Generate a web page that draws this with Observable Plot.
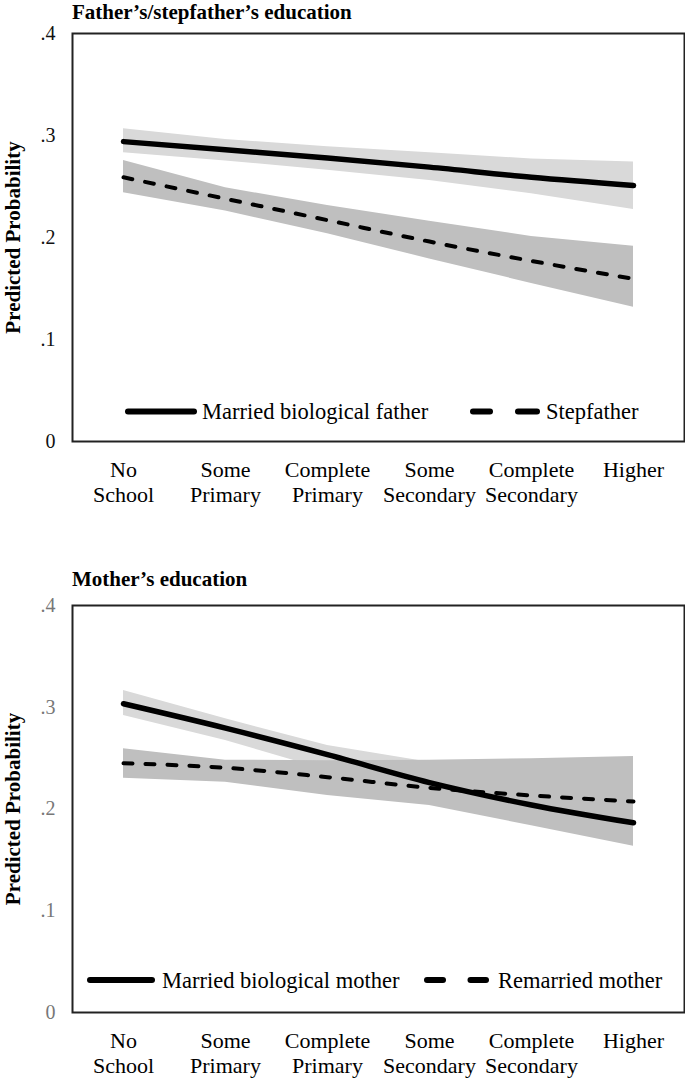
<!DOCTYPE html>
<html>
<head>
<meta charset="utf-8">
<script src="https://cdn.jsdelivr.net/npm/d3@7"></script>
<script src="https://cdn.jsdelivr.net/npm/@observablehq/plot@0.6"></script>
<style>
  body { margin: 0; background: #fff; }
  #wrap { position: relative; width: 685px; height: 1078px; overflow: hidden; font-family: "Liberation Serif", serif; }
  .title { position: absolute; left: 72px; font-weight: bold; font-size: 21px; line-height: 24px; white-space: nowrap; color: #000; }
  .panel { position: absolute; left: 0; }
  #legend { position: absolute; left: 0; top: 0; pointer-events: none; }
</style>
</head>
<body>
<div id="wrap">
  <div class="panel" id="p1" style="top:0px"></div>
  <div class="panel" id="p2" style="top:560px"></div>
  <svg id="legend" width="685" height="1078"></svg>
  <div class="title" id="t1" style="top:0px"></div>
  <div class="title" id="t2" style="top:567px"></div>
</div>
<script>
// ---- data ----
const titles = ["Father’s/stepfather’s education", "Mother’s education"];
const yLabel = "Predicted Probability";
const categories = ["No School", "Some Primary", "Complete Primary", "Some Secondary", "Complete Secondary", "Higher"];
const yTicks = [0, 0.1, 0.2, 0.3, 0.4];

const fatherSeries = ["Married biological father", "Stepfather"];
const fatherBio   = [0.294, 0.286, 0.278, 0.269, 0.259, 0.251];
const fatherBioLo = [0.283, 0.275, 0.266, 0.256, 0.243, 0.2275];
const fatherBioHi = [0.3066, 0.296, 0.289, 0.283, 0.277, 0.274];
const stepfather   = [0.259, 0.238, 0.217, 0.196, 0.177, 0.1595];
const stepfatherLo = [0.2438, 0.226, 0.2036, 0.179, 0.155, 0.1317];
const stepfatherHi = [0.2755, 0.2487, 0.2314, 0.216, 0.201, 0.1915];

const motherSeries = ["Married biological mother", "Remarried mother"];
const motherBio   = [0.3034, 0.2795, 0.2535, 0.226, 0.204, 0.1864];
const motherBioLo = [0.2919, 0.2673, 0.238, 0.212, 0.188, 0.168];
const motherBioHi = [0.3165, 0.2886, 0.2624, 0.246, 0.226, 0.21];
const remarried   = [0.245, 0.2405, 0.2313, 0.2208, 0.2133, 0.2074];
const remarriedLo = [0.2303, 0.2264, 0.2133, 0.2034, 0.1835, 0.1635];
const remarriedHi = [0.2591, 0.2480, 0.2475, 0.2480, 0.2495, 0.2516];

// ---- helpers ----
function table(est, lo, hi) {
  return categories.map((c, i) => ({cat: c, est: est[i], lo: lo[i], hi: hi[i]}));
}
const fmt = d => d === 0 ? "0" : d3.format(".1f")(d).replace(/^0/, "");

function panel({a, b, height, marginTop, marginBottom, tickColor}) {
  return Plot.plot({
    width: 685,
    height,
    marginTop,
    marginBottom,
    marginLeft: 72,
    marginRight: 1,
    style: {fontFamily: "'Liberation Serif', serif", background: "transparent", overflow: "visible", color: "#000"},
    x: {type: "point", domain: categories, padding: 0.5},
    y: {domain: [0, 0.4]},
    marks: [
      Plot.areaY(a, {x: "cat", y1: "lo", y2: "hi", fill: "#d9d9d9"}),
      Plot.areaY(b, {x: "cat", y1: "lo", y2: "hi", fill: "#bfbfbf"}),
      Plot.line(a, {x: "cat", y: "est", stroke: "#000", strokeWidth: 5.5, strokeLinecap: "round", curve: "monotone-x"}),
      Plot.line(b, {x: "cat", y: "est", stroke: "#000", strokeWidth: 4, strokeDasharray: "9,13", strokeLinecap: "round", curve: "monotone-x"}),
      Plot.frame({stroke: "#222", strokeWidth: 2}),
      Plot.axisX({tickSize: 0, tickPadding: 18, fontSize: 22, lineHeight: 1.14, label: null, color: "#000",
                  tickFormat: c => c.replace(" ", "\n")}),
      Plot.axisY({ticks: yTicks, tickSize: 0, tickPadding: 17, fontSize: 20, label: null, color: tickColor,
                  tickFormat: fmt}),
      Plot.text([yLabel], {frameAnchor: "left", textAnchor: "middle", lineAnchor: "middle", rotate: -90, dx: -59,
                  text: d => d, fontWeight: "bold", fontSize: 21, fill: "#000"})
    ]
  });
}

document.getElementById("t1").textContent = titles[0];
document.getElementById("t2").textContent = titles[1];

document.getElementById("p1").append(panel({
  a: table(fatherBio, fatherBioLo, fatherBioHi),
  b: table(stepfather, stepfatherLo, stepfatherHi),
  height: 540, marginTop: 33, marginBottom: 99, tickColor: "#111"
}));
document.getElementById("p2").append(panel({
  a: table(motherBio, motherBioLo, motherBioHi),
  b: table(remarried, remarriedLo, remarriedHi),
  height: 518, marginTop: 45, marginBottom: 66, tickColor: "#777"
}));

// ---- legends (inside frames) ----
const lg = d3.select("#legend");
function legend(names, y, solid, dashes, textX) {
  lg.append("line").attr("x1", solid[0]).attr("x2", solid[1]).attr("y1", y).attr("y2", y)
    .attr("stroke", "#000").attr("stroke-width", 6).attr("stroke-linecap", "round");
  lg.append("text").attr("x", textX[0]).attr("y", y + 7.5).text(names[0])
    .attr("font-family", "'Liberation Serif', serif").attr("font-size", 22.5).attr("fill", "#000");
  dashes.forEach(([x1, x2]) => lg.append("line").attr("x1", x1).attr("x2", x2).attr("y1", y).attr("y2", y)
    .attr("stroke", "#000").attr("stroke-width", 6).attr("stroke-linecap", "round"));
  lg.append("text").attr("x", textX[1]).attr("y", y + 7.5).text(names[1])
    .attr("font-family", "'Liberation Serif', serif").attr("font-size", 22.5).attr("fill", "#000");
}
legend(fatherSeries, 411.5, [128, 194], [[473, 490], [518, 537]], [202, 546]);
legend(motherSeries, 980, [90, 152], [[427, 443], [470.5, 486]], [162, 498]);
</script>
</body>
</html>
